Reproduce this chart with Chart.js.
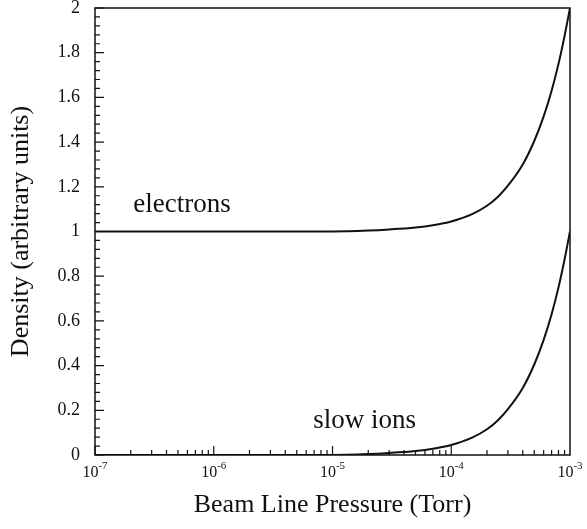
<!DOCTYPE html>
<html lang="en">
<head>
    <meta charset="UTF-8">
    <title>Density vs Beam Line Pressure</title>
    <script src="https://cdn.jsdelivr.net/npm/chart.js"></script>
    <style>
        body {
            margin: 0;
            background: #fff;
        }
        #densityChart {
            display: block;
        }
    </style>
</head>
<body>
<canvas id="densityChart" width="587" height="529"></canvas>

<script>
    // values
    const pressure  = [1e-7, 1e-6, 1e-5, 2e-5, 3e-5, 5e-5, 7e-5, 1e-4, 1.5e-4, 2e-4, 2.5e-4, 3e-4, 4e-4, 5e-4, 6e-4, 7e-4, 8e-4, 9e-4, 1e-3];
    const electrons = [1, 1, 1, 1.004, 1.009, 1.018, 1.028, 1.045, 1.078, 1.115, 1.158, 1.205, 1.3, 1.405, 1.515, 1.63, 1.75, 1.875, 2.0];
    const slowIons  = [0, 0, 0, 0.004, 0.009, 0.018, 0.028, 0.045, 0.078, 0.115, 0.158, 0.205, 0.3, 0.405, 0.515, 0.63, 0.75, 0.875, 1.0];

    const decades = [1e-7, 1e-6, 1e-5, 1e-4, 1e-3];
    const decadeExponents = ['-7', '-6', '-5', '-4', '-3'];
    const yMin = 0, yMax = 2, yStep = 0.2, yMinorStep = 0.04;

    const serif = "'Liberation Serif', 'Times New Roman', serif";

    function toPoints(ys) {
        return pressure.map((p, i) => ({ x: p, y: ys[i] }));
    }

    // frame, inward ticks, x labels with superscripts, curve names
    const paperAxes = {
        id: 'paperAxes',
        afterDraw(chart) {
            const ctx = chart.ctx;
            const a = chart.chartArea;
            const xs = chart.scales.x;
            const ys = chart.scales.y;
            ctx.save();
            ctx.strokeStyle = '#111';
            ctx.lineWidth = 1.5;
            ctx.strokeRect(a.left, a.top, a.right - a.left, a.bottom - a.top);

            ctx.lineWidth = 1.2;
            ctx.beginPath();
            // x ticks (log minor + decades)
            for (let d = 0; d < decades.length - 1; d++) {
                for (let m = 1; m <= 9; m++) {
                    const px = xs.getPixelForValue(decades[d] * m);
                    const len = m === 1 ? 9 : 5;
                    ctx.moveTo(px, a.bottom);
                    ctx.lineTo(px, a.bottom - len);
                }
            }
            // y ticks
            const n = Math.round((yMax - yMin) / yMinorStep);
            for (let i = 0; i <= n; i++) {
                const v = yMin + i * yMinorStep;
                const py = ys.getPixelForValue(v);
                const major = i % Math.round(yStep / yMinorStep) === 0;
                ctx.moveTo(a.left, py);
                ctx.lineTo(a.left + (major ? 9 : 5), py);
            }
            ctx.stroke();

            // x tick labels: 10 with superscript exponent
            ctx.fillStyle = '#111';
            ctx.textBaseline = 'alphabetic';
            decades.forEach((d, i) => {
                const px = xs.getPixelForValue(d);
                ctx.font = '16px ' + serif;
                const w10 = ctx.measureText('10').width;
                ctx.font = '11px ' + serif;
                const wExp = ctx.measureText(decadeExponents[i]).width;
                const x0 = px - (w10 + wExp) / 2;
                ctx.font = '16px ' + serif;
                ctx.textAlign = 'left';
                ctx.fillText('10', x0, a.bottom + 22);
                ctx.font = '11px ' + serif;
                ctx.fillText(decadeExponents[i], x0 + w10, a.bottom + 14);
            });

            // curve names
            ctx.font = '27px ' + serif;
            ctx.textAlign = 'left';
            ctx.fillText('electrons', xs.getPixelForValue(2.1e-7), ys.getPixelForValue(1.087));
            ctx.fillText('slow ions', xs.getPixelForValue(6.9e-6), ys.getPixelForValue(0.12));
            ctx.restore();
        }
    };

    const ctx = document.getElementById('densityChart').getContext('2d');
    new Chart(ctx, {
        type: 'scatter',
        data: {
            datasets: [{
                label: 'electrons',
                data: toPoints(electrons),
                showLine: true,
                borderColor: '#111',
                borderWidth: 2,
                pointRadius: 0,
                cubicInterpolationMode: 'monotone'
            }, {
                label: 'slow ions',
                data: toPoints(slowIons),
                showLine: true,
                borderColor: '#111',
                borderWidth: 2,
                pointRadius: 0,
                cubicInterpolationMode: 'monotone'
            }]
        },
        options: {
            responsive: false,
            animation: false,
            layout: { padding: { top: 8, right: 17, left: 0, bottom: 0 } },
            plugins: {
                legend: { display: false },
                tooltip: { enabled: false }
            },
            scales: {
                x: {
                    type: 'logarithmic',
                    min: 1e-7,
                    max: 1e-3,
                    grid: { display: false, drawTicks: false },
                    border: { display: false },
                    ticks: { display: false },
                    title: {
                        display: true,
                        text: 'Beam Line Pressure (Torr)',
                        color: '#111',
                        font: { family: serif, size: 26 },
                        padding: { top: 0, bottom: 8 }
                    },
                    afterFit(scale) {
                        scale.height = 74;
                        scale.paddingLeft = 0;
                        scale.paddingRight = 0;
                    }
                },
                y: {
                    min: yMin,
                    max: yMax,
                    grid: { display: false, drawTicks: false },
                    border: { display: false },
                    ticks: {
                        stepSize: yStep,
                        padding: 15,
                        color: '#111',
                        font: { family: serif, size: 18 },
                        callback: v => String(+v.toFixed(1))
                    },
                    title: {
                        display: true,
                        text: 'Density (arbitrary units)',
                        color: '#111',
                        font: { family: serif, size: 26 },
                        padding: { top: 6, bottom: 0 }
                    },
                    afterFit(scale) {
                        scale.width = 95;
                        scale.paddingTop = 0;
                        scale.paddingBottom = 0;
                    }
                }
            }
        },
        plugins: [paperAxes]
    });
</script>
</body>
</html>
